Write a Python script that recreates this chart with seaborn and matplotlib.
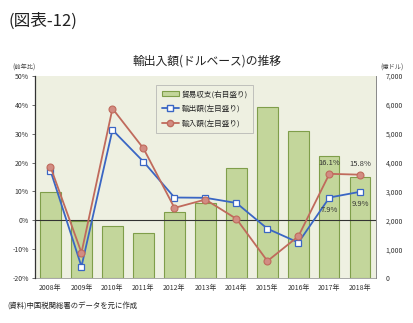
import numpy as np
import pandas as pd
import seaborn as sns
import matplotlib
matplotlib.use("Agg")
import matplotlib.pyplot as plt
from matplotlib.patches import Patch
from matplotlib.lines import Line2D

# 年次データ（中国の輸出入：ドルベース）
years = ["2008年", "2009年", "2010年", "2011年", "2012年", "2013年",
         "2014年", "2015年", "2016年", "2017年", "2018年"]
trade_balance = [2981, 1961, 1815, 1549, 2303, 2590, 3825, 5939, 5097, 4225, 3509]  # 億ドル
exports_yoy = [17.2, -16.0, 31.3, 20.3, 7.9, 7.8, 6.0, -2.9, -7.7, 7.9, 9.9]       # %
imports_yoy = [18.5, -11.2, 38.7, 24.9, 4.3, 7.2, 0.5, -14.1, -5.5, 16.1, 15.8]     # %

sns.set_theme(style="white")
plt.rcParams["font.family"] = ["Noto Sans CJK JP", "DejaVu Sans"]

df = pd.DataFrame({"year": years, "balance": trade_balance,
                   "exp": exports_yoy, "imp": imports_yoy})
df["pos"] = np.arange(len(years))

fig = plt.figure(figsize=(4.14, 3.23), dpi=100)
fig.patch.set_facecolor("white")

ax_bar = fig.add_axes([0.0845, 0.139, 0.8235, 0.626])
ax_bar.set_facecolor("#EEF0E1")

bar_fill = "#C3D69B"
bar_edge = "#7F9E4A"
sns.barplot(data=df, x="year", y="balance", color=bar_fill, width=0.65,
            edgecolor=bar_edge, linewidth=0.8, saturation=1, ax=ax_bar)
ax_bar.set_ylim(0, 7000)
ax_bar.set_yticks(np.arange(0, 7001, 1000))
ax_bar.set_yticklabels([f"{v:,}" for v in range(0, 7001, 1000)])
ax_bar.set_xlim(-0.5, len(years) - 0.5)
ax_bar.set_xlabel("")
ax_bar.set_ylabel("")

ax_line = ax_bar.twinx()
ax_line.patch.set_visible(False)
# 棒グラフ（貿易収支）は右目盛り、折れ線（前年比）は左目盛り
ax_bar.yaxis.tick_right()
ax_line.yaxis.tick_left()

blue = "#3A66C4"
red = "#C06A5C"
sns.lineplot(data=df, x="pos", y="exp", color=blue, linewidth=1.3,
             marker="s", markersize=4.5, markerfacecolor="white",
             markeredgecolor=blue, markeredgewidth=0.9, ax=ax_line)
sns.lineplot(data=df, x="pos", y="imp", color=red, linewidth=1.3,
             marker="o", markersize=5, markerfacecolor="#D28C82",
             markeredgecolor=red, markeredgewidth=0.8, ax=ax_line)
ax_line.set_ylim(-20, 50)
ax_line.set_yticks(np.arange(-20, 51, 10))
ax_line.set_yticklabels([f"{v}%" for v in range(-20, 51, 10)])
ax_line.set_xlim(-0.5, len(years) - 0.5)
ax_line.set_xlabel("")
ax_line.set_ylabel("")
ax_line.axhline(0, color="#333333", linewidth=0.8, zorder=1)

# 直近2年の値ラベル
for i in (9, 10):
    ax_line.annotate(f"{imports_yoy[i]:.1f}%", (df["pos"][i], imports_yoy[i]),
                     xytext=(0, 5), textcoords="offset points",
                     ha="center", va="bottom", fontsize=5.5, color="#333333")
    ax_line.annotate(f"{exports_yoy[i]:.1f}%", (df["pos"][i], exports_yoy[i]),
                     xytext=(0, -6), textcoords="offset points",
                     ha="center", va="top", fontsize=5.5, color="#333333")

for ax in (ax_bar, ax_line):
    ax.tick_params(axis="both", labelsize=5, length=2.5, width=0.6,
                   color="#555555", labelcolor="#333333", pad=2)
    ax.spines["top"].set_visible(False)
ax_line.spines["left"].set_color("#333333")
ax_line.spines["left"].set_linewidth(0.9)
ax_line.spines["right"].set_color("#888888")
ax_line.spines["right"].set_linewidth(0.7)
ax_line.spines["bottom"].set_visible(False)
ax_bar.spines["bottom"].set_color("#999999")
ax_bar.spines["bottom"].set_linewidth(0.6)
ax_bar.spines["left"].set_visible(False)
ax_bar.spines["right"].set_visible(False)
ax_bar.tick_params(axis="x", length=0, pad=4)
ax_bar.tick_params(axis="y", length=0, pad=7)
ax_line.tick_params(axis="y", pad=2)

handles = [
    Patch(facecolor=bar_fill, edgecolor=bar_edge, linewidth=0.8, label="貿易収支(右目盛り)"),
    Line2D([], [], color=blue, linewidth=1.3, marker="s", markersize=4,
           markerfacecolor="white", markeredgecolor=blue, label="輸出額(左目盛り)"),
    Line2D([], [], color=red, linewidth=1.3, marker="o", markersize=4.5,
           markerfacecolor="#D28C82", markeredgecolor=red, label="輸入額(左目盛り)"),
]
leg = ax_line.legend(handles=handles, loc="upper left", bbox_to_anchor=(0.345, 0.975),
                     fontsize=5.5, frameon=True, fancybox=False, handlelength=2.2,
                     handleheight=0.8, labelspacing=0.9, borderpad=0.7,
                     handletextpad=0.4)
leg.get_frame().set_facecolor("#EEF0E1")
leg.get_frame().set_edgecolor("#AAAAAA")
leg.get_frame().set_linewidth(0.6)

fig.text(0.02, 0.935, "(図表-12)", fontsize=12, color="#222222", ha="left", va="center")
fig.text(0.5, 0.812, "輸出入額(ドルベース)の推移", fontsize=8.5, color="#222222",
         ha="center", va="center")
fig.text(0.03, 0.79, "(前年比)", fontsize=4.5, color="#444444", ha="left", va="center")
fig.text(0.975, 0.79, "(億ドル)", fontsize=4.5, color="#444444", ha="right", va="center")
fig.text(0.018, 0.05, "(資料)中国税関総署のデータを元に作成", fontsize=5.3,
         color="#222222", ha="left", va="center")

fig.savefig("out.png", dpi=100)
